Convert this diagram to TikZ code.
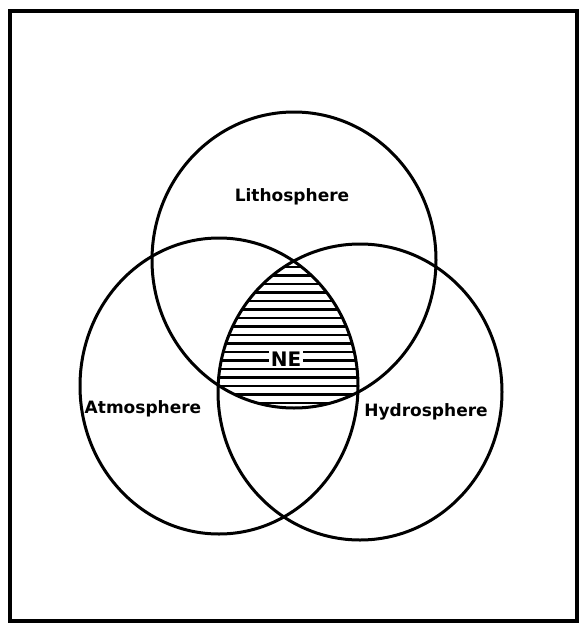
\documentclass[tikz,border=0pt]{standalone}
\usepackage{fontspec}
\setmainfont{DejaVu Sans}
\begin{document}
\begin{tikzpicture}[x=1pt,y=-1pt,
    ring/.style={line width=3pt},
    hatch/.style={line width=2.2pt},
    sphere/.style={font=\bfseries\fontsize{17}{20}\selectfont,inner sep=0pt}]
  \useasboundingbox (0,0) rectangle (581,627);
  \draw[line width=3.2pt] (10,11) rectangle (577,621);
  % common part of the three spheres
  \begin{scope}
    \clip (294,260) ellipse [x radius=142, y radius=148];
    \clip (219,386) ellipse [x radius=139, y radius=148];
    \clip (360,392) ellipse [x radius=142, y radius=148];
    \foreach \y in {267,275.5,...,411}
      \draw[hatch] (200,\y) -- (390,\y);
  \end{scope}
  \draw[ring] (294,260) ellipse [x radius=142, y radius=148];
  \draw[ring] (219,386) ellipse [x radius=139, y radius=148];
  \draw[ring] (360,392) ellipse [x radius=142, y radius=148];
  \node[sphere] (litho) at (292,197) {Lithosphere};
  \node[sphere] (atmo) at (143,409) {Atmosphere};
  \node[sphere] (hydro) at (426,412) {Hydrosphere};
  \node[sphere,font=\bfseries\fontsize{20}{22}\selectfont,fill=white,inner sep=1.5pt] (ne) at (286,359) {NE};
\end{tikzpicture}
\end{document}
